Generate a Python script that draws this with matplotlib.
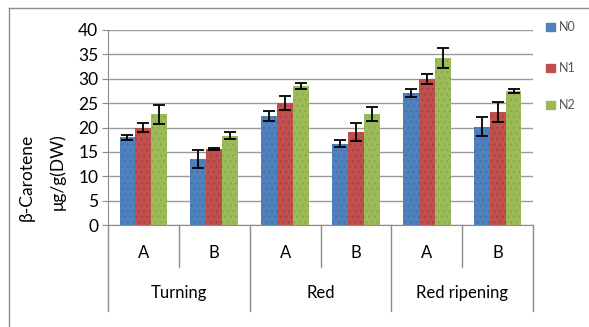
import numpy as np
import matplotlib
matplotlib.use("Agg")
import matplotlib.pyplot as plt
from matplotlib.lines import Line2D
from matplotlib.transforms import blended_transform_factory

plt.rcParams['font.family'] = ['Lato', 'DejaVu Sans']
plt.rcParams['hatch.linewidth'] = 0.6

stages = ["Turning", "Red", "Red ripening"]
subgroups = ["A", "B", "A", "B", "A", "B"]
series = ["N0", "N1", "N2"]

n0 = [18.0, 13.5, 22.4, 16.7, 27.0, 20.2]
n1 = [20.0, 15.5, 25.0, 19.1, 30.0, 23.2]
n2 = [22.7, 18.3, 28.6, 22.8, 34.3, 27.4]
n0_err = [0.5, 1.8, 1.0, 0.8, 0.8, 2.0]
n1_err = [1.0, 0.2, 1.4, 1.8, 1.0, 2.0]
n2_err = [2.0, 0.7, 0.6, 1.5, 2.0, 0.4]

colors = ["#4F81BD", "#C0504D", "#9BBB59"]
hatch_colors = ["#3f6ea8", "#a83c3a", "#86a546"]

fig = plt.figure(figsize=(5.89, 3.27), dpi=100)
ax = fig.add_axes([108 / 589, 1 - 225 / 327, 425 / 589, 195 / 327])

x = np.arange(len(subgroups))
w = 0.225
for i, (vals, errs) in enumerate(zip([n0, n1, n2], [n0_err, n1_err, n2_err])):
    ax.bar(x + (i - 1) * w, vals, w, color=colors[i], edgecolor=hatch_colors[i],
           linewidth=0, hatch="...", label=series[i], zorder=2)
    ax.errorbar(x + (i - 1) * w, vals, yerr=errs, fmt="none", ecolor="black",
                elinewidth=1.3, capsize=4, capthick=1.3, zorder=3)

ax.set_xlim(-0.5, len(subgroups) - 0.5)
ax.set_ylim(0, 40)
ax.set_yticks(np.arange(0, 41, 5))
ax.yaxis.grid(True, color="#9a9a9a", linewidth=1.0, zorder=0)
ax.set_axisbelow(True)
for s in ["top", "right"]:
    ax.spines[s].set_visible(False)
ax.spines["left"].set_color("#8c8c8c")
ax.spines["bottom"].set_color("#8c8c8c")
ax.tick_params(axis="y", length=4, color="#8c8c8c", labelsize=12.5, pad=3)
ax.set_xticks([])

# category axis: subgroup labels, stage labels and separators below the plot
trans = blended_transform_factory(ax.transData, ax.transAxes)
for i, lab in enumerate(subgroups):
    ax.text(i, -0.145, lab, transform=trans, ha="center", va="center", fontsize=12)
for j, st in enumerate(stages):
    ax.text(2 * j + 0.5, -0.35, st, transform=trans, ha="center", va="center", fontsize=12)
for b in np.arange(-0.5, len(subgroups), 1.0):
    depth = -0.44 if int(b + 0.5) % 2 == 0 else -0.215
    ax.add_line(Line2D([b, b], [0, depth], transform=trans, color="#8c8c8c",
                       linewidth=1.0, clip_on=False))

fig.text(27 / 589, 1 - 177 / 327, "β-Carotene", rotation=90, ha="center", va="center", fontsize=12.5)
fig.text(57 / 589, 1 - 172 / 327, "μg/g(DW)", rotation=90, ha="center", va="center", fontsize=12.5)

# legend entries
for i, name in enumerate(series):
    yy = 1 - [27, 68, 105][i] / 327
    fig.patches.append(plt.Rectangle((546 / 589, yy - 4 / 327), 9 / 589, 8 / 327,
                                     transform=fig.transFigure, color=colors[i]))
    fig.text(559 / 589, yy, name, ha="left", va="center", fontsize=9, color="#555555")

# chart border
fig.add_artist(Line2D([9 / 589, 9 / 589], [0, 1 - 8 / 327], transform=fig.transFigure,
                      color="#8c8c8c", linewidth=1.0))
fig.add_artist(Line2D([9 / 589, 1], [1 - 8 / 327, 1 - 8 / 327], transform=fig.transFigure,
                      color="#8c8c8c", linewidth=1.0))

fig.savefig("out.png", dpi=100)
